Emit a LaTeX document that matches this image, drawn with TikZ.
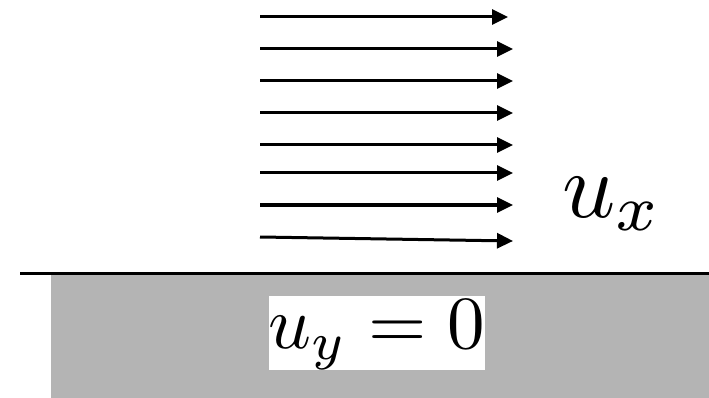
\documentclass[tikz,border=0pt]{standalone}
\usepackage{amsmath}
\usepackage{graphicx}
\usepackage{xcolor}
\usepackage{tikz}
\usetikzlibrary{arrows.meta}

\definecolor{wallgray}{RGB}{180,180,180}

\begin{document}
\begin{tikzpicture}[
    x=1pt, y=-1pt,
    flow/.style={-{Triangle[length=16pt,width=15pt]}, line width=3pt},
    wall/.style={fill=wallgray, draw=none},
    surface/.style={line width=3pt},
    labelbox/.style={
        fill=white,
        inner sep=0pt,
        minimum width=216pt,
        text height=52pt,
        text depth=22pt,
        anchor=base
    },
    velocity/.style={
        inner sep=0pt,
        anchor=base west
    }
]
\useasboundingbox (0,0) rectangle (709,398);

\fill[wall] (51,275) rectangle (709,398);

\coordinate (wallleft) at (20,273.5);
\coordinate (wallright) at (709,273.5);
\draw[surface] (wallleft) -- (wallright);

\node[labelbox] (uy) at (377,348) {\scalebox{7.5}{$u_y = 0$}};
\node[velocity] (ux) at (562,217) {\scalebox{9.3}{$u_x$}};

\coordinate (s1) at (260,17);
\coordinate (e1) at (508,17);
\coordinate (s2) at (260,49);
\coordinate (e2) at (513,49);
\coordinate (s3) at (260,81);
\coordinate (e3) at (513,81);
\coordinate (s4) at (260,113);
\coordinate (e4) at (513,113);
\coordinate (s5) at (260,145);
\coordinate (e5) at (513,145);
\coordinate (s6) at (260,173);
\coordinate (e6) at (513,173);
\coordinate (s7) at (260,205);
\coordinate (e7) at (513,205);
\coordinate (s8) at (260,237);
\coordinate (e8) at (513,241);

\draw[flow] (s1) -- (e1);
\draw[flow] (s2) -- (e2);
\draw[flow] (s3) -- (e3);
\draw[flow] (s4) -- (e4);
\draw[flow] (s5) -- (e5);
\draw[flow] (s6) -- (e6);
\draw[flow] (s7) -- (e7);
\draw[flow] (s8) -- (e8);

\end{tikzpicture}
\end{document}
